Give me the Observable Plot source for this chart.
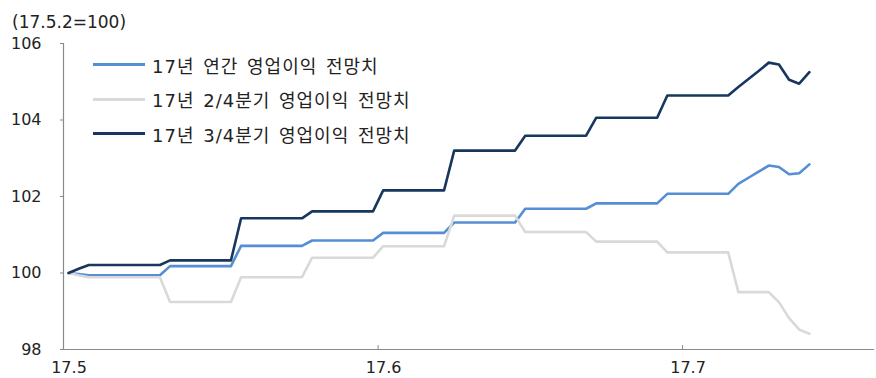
<!DOCTYPE html>
<html>
<head>
<meta charset="utf-8">
<script src="https://cdn.jsdelivr.net/npm/d3@7"></script>
<script src="https://cdn.jsdelivr.net/npm/@observablehq/plot@0.6"></script>
<style>
  body { margin: 0; background: #fff; }
  #wrap { position: relative; width: 876px; height: 378px; font-family: "DejaVu Sans", "Noto Sans CJK KR", sans-serif; color: #222; }
  #title { position: absolute; left: 12px; top: 12px; font-size: 17px; line-height: 20px; }
  #legend { position: absolute; left: 93px; top: 47.5px; font-size: 18px; letter-spacing: 1px; word-spacing: 2px; }
  .row { display: flex; align-items: center; height: 34.6px; white-space: nowrap; }
  .sw { width: 52px; height: 3px; margin-right: 7px; }
</style>
</head>
<body>
<div id="wrap">
  <div id="chart"></div>
  <div id="title"></div>
  <div id="legend"></div>
</div>
<script>
// ---- data ----
const startDate = Date.UTC(2017, 4, 2); // 17.5.2 = 100
const seriesNames = ["17년 연간 영업이익 전망치", "17년 2/4분기 영업이익 전망치", "17년 3/4분기 영업이익 전망치"];
const seriesColors = ["#558ED5", "#D9D9D9", "#17375E"];

const annual = [
  100.00, 99.97, 99.94, 99.94, 99.94, 99.94, 99.94, 99.94, 99.94, 99.94,
  100.18, 100.18, 100.18, 100.18, 100.18, 100.18, 100.18,
  100.71, 100.71, 100.71, 100.71, 100.71, 100.71, 100.71,
  100.85, 100.85, 100.85, 100.85, 100.85, 100.85, 100.85,
  101.05, 101.05, 101.05, 101.05, 101.05, 101.05, 101.05,
  101.32, 101.32, 101.32, 101.32, 101.32, 101.32, 101.32,
  101.68, 101.68, 101.68, 101.68, 101.68, 101.68, 101.68,
  101.82, 101.82, 101.82, 101.82, 101.82, 101.82, 101.82,
  102.07, 102.07, 102.07, 102.07, 102.07, 102.07, 102.07,
  102.33, 102.49, 102.65, 102.81, 102.77, 102.58, 102.61, 102.84
];
const q2 = [
  100.00, 99.94, 99.89, 99.89, 99.89, 99.89, 99.89, 99.89, 99.89, 99.89,
  99.24, 99.24, 99.24, 99.24, 99.24, 99.24, 99.24,
  99.89, 99.89, 99.89, 99.89, 99.89, 99.89, 99.89,
  100.40, 100.40, 100.40, 100.40, 100.40, 100.40, 100.40,
  100.70, 100.70, 100.70, 100.70, 100.70, 100.70, 100.70,
  101.50, 101.50, 101.50, 101.50, 101.50, 101.50, 101.50,
  101.07, 101.07, 101.07, 101.07, 101.07, 101.07, 101.07,
  100.82, 100.82, 100.82, 100.82, 100.82, 100.82, 100.82,
  100.54, 100.54, 100.54, 100.54, 100.54, 100.54, 100.54,
  99.50, 99.50, 99.50, 99.50, 99.24, 98.82, 98.52, 98.41
];
const q3 = [
  100.00, 100.11, 100.21, 100.21, 100.21, 100.21, 100.21, 100.21, 100.21, 100.21,
  100.33, 100.33, 100.33, 100.33, 100.33, 100.33, 100.33,
  101.43, 101.43, 101.43, 101.43, 101.43, 101.43, 101.43,
  101.61, 101.61, 101.61, 101.61, 101.61, 101.61, 101.61,
  102.16, 102.16, 102.16, 102.16, 102.16, 102.16, 102.16,
  103.20, 103.20, 103.20, 103.20, 103.20, 103.20, 103.20,
  103.59, 103.59, 103.59, 103.59, 103.59, 103.59, 103.59,
  104.06, 104.06, 104.06, 104.06, 104.06, 104.06, 104.06,
  104.64, 104.64, 104.64, 104.64, 104.64, 104.64, 104.64,
  104.86, 105.07, 105.28, 105.50, 105.45, 105.05, 104.95, 105.25
];
const yTicks = [98, 100, 102, 104, 106];
const xTickLabels = ["17.5", "17.6", "17.7"];
const xTickDates = [Date.UTC(2017, 4, 1, 12), Date.UTC(2017, 5, 1, 12), Date.UTC(2017, 6, 1, 12)];
const xEnd = Date.UTC(2017, 6, 20, 10);

// ---- build table ----
const DAY = 86400000;
const seriesValues = [annual, q2, q3];
const rows = [];
seriesValues.forEach((vals, s) => vals.forEach((v, i) => rows.push({date: new Date(startDate + i * DAY), value: v, series: seriesNames[s]})));
const tickDates = xTickDates.map(d => new Date(d));
const labelOf = new Map(tickDates.map((d, i) => [+d, xTickLabels[i]]));
const axisColor = "#8a8a8a";

const chart = Plot.plot({
  width: 876,
  height: 378,
  marginTop: 43,
  marginBottom: 29,
  marginLeft: 63,
  marginRight: 2,
  style: {fontFamily: "DejaVu Sans, Noto Sans CJK KR, sans-serif", fontSize: "16px", color: "#222", background: "#fff"},
  x: {type: "utc", domain: [tickDates[0], new Date(xEnd)], label: null},
  y: {domain: [98, 106], label: null},
  color: {domain: seriesNames, range: seriesColors},
  marks: [
    Plot.ruleY([98], {stroke: axisColor, strokeWidth: 1.2}),
    Plot.ruleX([tickDates[0]], {stroke: axisColor, strokeWidth: 1.2}),
    Plot.axisY({ticks: yTicks, tickSize: 3, tickPadding: 19, stroke: axisColor, fill: "#222", tickFormat: d => d, fontSize: 16, label: null}),
    Plot.axisX({ticks: tickDates, tickSize: -4, tickFormat: () => "", stroke: axisColor, label: null}),
    Plot.axisX({ticks: tickDates, tickSize: 0, tickPadding: 12, dx: 5.5, tickFormat: d => labelOf.get(+d), fill: "#222", fontSize: 16, label: null}),
    Plot.line(rows, {x: "date", y: "value", z: "series", stroke: "series", strokeWidth: 2.6, strokeLinejoin: "round"})
  ]
});
document.getElementById("chart").appendChild(chart);

document.getElementById("title").textContent = "(17.5.2=100)";
const legend = document.getElementById("legend");
seriesNames.forEach((name, i) => {
  const row = document.createElement("div");
  row.className = "row";
  const sw = document.createElement("span");
  sw.className = "sw";
  sw.style.background = seriesColors[i];
  const t = document.createElement("span");
  t.textContent = name;
  row.appendChild(sw);
  row.appendChild(t);
  legend.appendChild(row);
});
</script>
</body>
</html>
